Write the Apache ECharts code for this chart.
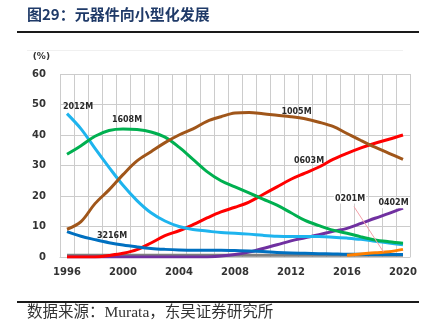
<!DOCTYPE html>
<html>
<head>
<meta charset="utf-8">
<script src="https://cdn.jsdelivr.net/npm/echarts@6/dist/echarts.min.js"></script>
<style>
html,body{margin:0;padding:0;background:#fff;}
#c{width:430px;height:330px;}
</style>
</head>
<body>
<div id="c"></div>
<script>
var years = ['1996','1997','1998','1999','2000','2001','2002','2003','2004','2005','2006','2007','2008','2009','2010','2011','2012','2013','2014','2015','2016','2017','2018','2019','2020'];
var yTicks = [0,10,20,30,40,50,60];
var s2012M = [47,42,35.6,29.4,23.5,18.5,14.5,11.8,10,9,8.5,8,7.8,7.5,7.1,6.8,6.7,6.7,6.7,6.5,6.2,5.8,5.2,4.6,4];
var s1608M = [33.7,36.5,39.6,41.5,42,41.8,41,39.3,36,32,28,25,23,21,19,17,14.5,12,10.3,8.8,7.8,6.6,5.6,5,4.5];
var s1005M = [9.1,11.6,17.5,22,27,31.5,34.5,37.5,40,42,44.5,46,47.2,47.4,47,46.5,46,45.3,44.2,42.8,40.5,38.2,36,34,32];
var s0603M = [0,0,0,0.5,1.2,2.4,4.6,7,8.6,10.6,12.8,14.8,16.3,18,20.5,23,25.5,27.5,29.5,32,34,35.8,37.3,38.6,40];
var s3216M = [8.3,6.8,5.7,4.7,3.9,3.3,2.8,2.5,2.3,2.2,2.2,2.2,2.1,2,1.8,1.5,1.3,1.2,1.1,1,0.9,0.9,0.8,0.8,0.8];
var s0402M = [0,0,0,0,0,0,0,0,0,0,0,0.3,0.8,1.6,2.8,4,5.3,6.3,7.3,8.4,9.4,11,12.7,14.3,16];
var s0201M = ['-','-','-','-','-','-','-','-','-','-','-','-','-','-','-','-','-','-','-','-','0.6','1.0','1.4','1.7','2.5'];
var sOther = [0.6,0.6,0.6,0.6,0.6,0.6,0.6,0.6,0.6,0.6,0.6,0.6,0.6,0.6,0.6,0.6,0.6,0.6,0.6,0.6,0.6,0.6,0.6,0.6,0.6];
var names = ['2012M','1608M','1005M','0603M','3216M','0402M','0201M'];
// label anchors: [category index, value, x offset]
var labelAt = {
  '2012M':[1,49.3,-3], '1608M':[4,45.1,4], '1005M':[16,47.6,5.5], '0603M':[17,31.5,4],
  '3216M':[3,6.9,3], '0201M':[20,19.2,3], '0402M':[23,17.6,4.5]
};

var chart = echarts.init(document.getElementById('c'), null, {renderer:'canvas'});

function mk(name, data, color, z){
  var la = labelAt[name];
  var s = {
    name:name, type:'line', data:data, smooth:0.35, symbol:'none', z:z,
    lineStyle:{color:color,width:3}, itemStyle:{color:color}
  };
  if (la){
    var bg = (name==='0201M'||name==='0402M') ? '#fff' : 'transparent';
    s.markPoint = {
      symbol:'circle', symbolSize:0, silent:true,
      data:[{coord:[la[0],la[1]], value:name}],
      label:{show:true, position:'inside', offset:[la[2],0], formatter:name,
        fontFamily:'DejaVu Sans', fontSize:8, fontWeight:'bold', color:'#2a2a2a',
        backgroundColor:bg, padding:[1,1]}
    };
  }
  return s;
}

var option = {
  animation:false,
  backgroundColor:'#fff',
  grid:{left:60, top:74, width:350, height:183},
  xAxis:{
    type:'category', data:years, boundaryGap:true,
    axisLine:{show:true, lineStyle:{color:'#cccccc'}},
    axisTick:{show:false},
    splitLine:{show:true, interval:0, lineStyle:{color:'#cccccc', width:1}},
    axisLabel:{interval:3, margin:10, fontFamily:'DejaVu Sans', fontSize:10, fontWeight:'bold', color:'#333'}
  },
  yAxis:{
    type:'value', min:yTicks[0], max:yTicks[yTicks.length-1], interval:10,
    name:'(%)', nameLocation:'end', nameGap:13,
    nameTextStyle:{align:'right', padding:[0,10,0,0], fontFamily:'DejaVu Sans', fontSize:9, fontWeight:'bold', color:'#333'},
    axisLine:{show:false}, axisTick:{show:false},
    splitLine:{show:true, lineStyle:{color:'#cccccc', width:1}},
    axisLabel:{margin:14, fontFamily:'DejaVu Sans', fontSize:10, fontWeight:'bold', color:'#333'}
  },
  series:[
    {name:'other', type:'line', data:sOther, symbol:'none', z:1, lineStyle:{color:'#7f7f7f', width:3}},
    mk('0402M', s0402M, '#7030A0', 2),
    mk('0603M', s0603M, '#FF0000', 3),
    mk('3216M', s3216M, '#0070C0', 4),
    mk('2012M', s2012M, '#1EB4EE', 5),
    mk('1608M', s1608M, '#00B050', 6),
    mk('1005M', s1005M, '#A0561A', 7),
    mk('0201M', s0201M, '#FF8000', 8)
  ],
  graphic:[
    {type:'text', left:27, top:7, style:{text:'图29：元器件向小型化发展', font:'bold 15px "Noto Sans CJK SC"', fill:'#1F3A68'}},
    {type:'rect', shape:{x:17, y:31, width:402, height:2}, style:{fill:'#1a1a1a'}},
    {type:'rect', shape:{x:27, y:50, width:376, height:1}, style:{fill:'#f0f0f0'}},
    {type:'rect', shape:{x:17, y:301, width:402, height:2}, style:{fill:'#1a1a1a'}},
    {type:'text', left:27, top:305, style:{text:'数据来源：Murata，东吴证券研究所', font:'15.5px "Liberation Serif", "Noto Sans CJK SC"', fill:'#333'}}
  ]
};
chart.setOption(option);

// leader line for 0201M label, positioned via the chart's own scales
function toPx(idx, val){
  var i0 = Math.floor(idx), f = idx - i0;
  var a = chart.convertToPixel({xAxisIndex:0, yAxisIndex:0}, [i0, val]);
  var b = chart.convertToPixel({xAxisIndex:0, yAxisIndex:0}, [i0+1, val]);
  return [a[0] + (b[0]-a[0])*f, a[1]];
}
var p1 = toPx(20.5, 16.5), p2 = toPx(22.6, 1.7);
var g = option.graphic.slice();
g.push({type:'line', z:50, shape:{x1:p1[0], y1:p1[1], x2:p2[0], y2:p2[1]}, style:{stroke:'#F4A0A8', lineWidth:1}});
chart.setOption({graphic:g});
</script>
</body>
</html>
